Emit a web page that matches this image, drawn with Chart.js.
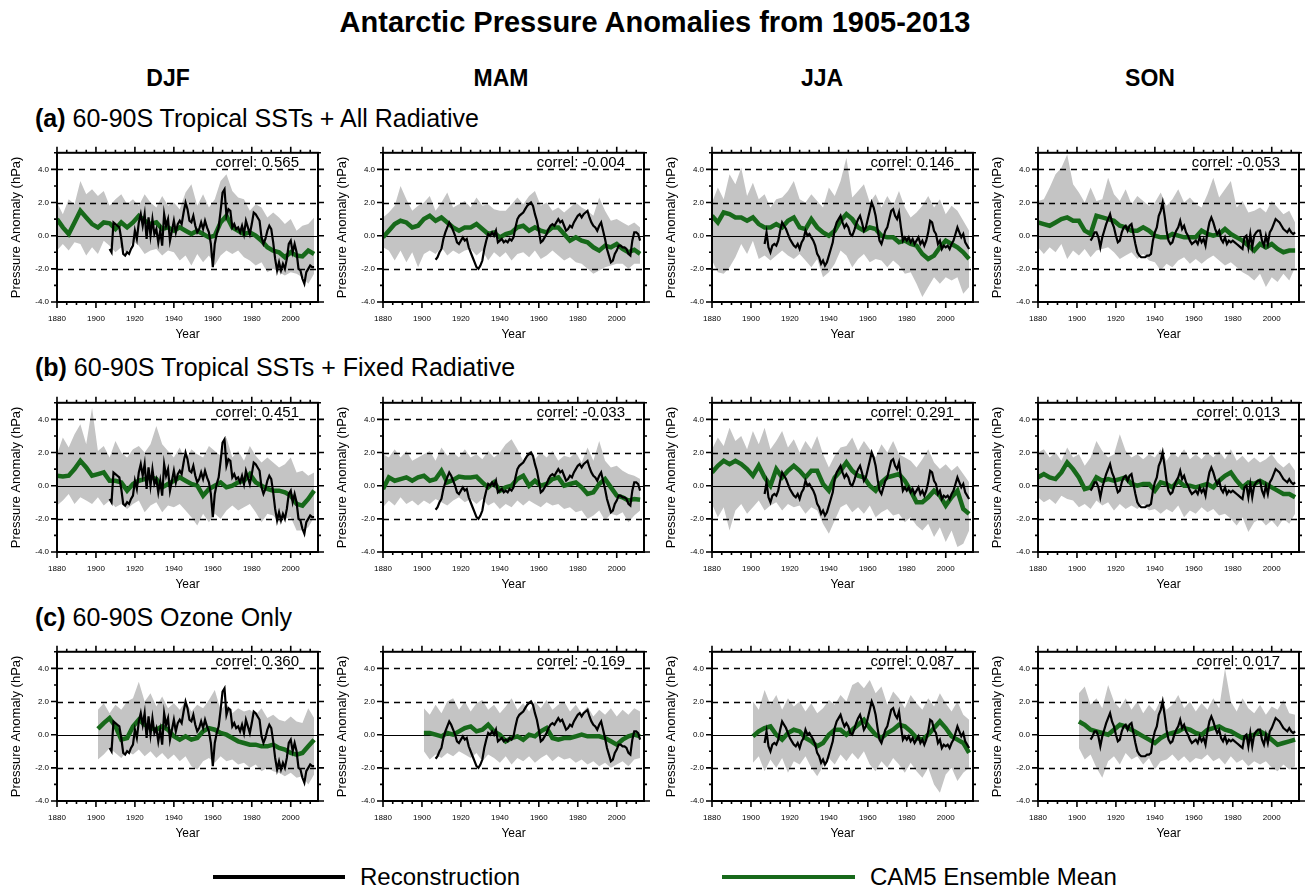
<!DOCTYPE html>
<html>
<head>
<meta charset="utf-8">
<script src="https://cdn.jsdelivr.net/npm/chart.js@4.4.1/dist/chart.umd.min.js"></script>
<style>
  body { margin: 0; background: #fff; }
  #page { position: relative; width: 1309px; height: 892px; overflow: hidden; background: #fff;
          font-family: "Liberation Sans", Arial, Helvetica, sans-serif; color: #000; }
  .txt { position: absolute; white-space: nowrap; line-height: 1; }
  .ctr { transform: translate(-50%, -50%); }
  .mid { transform: translateY(-50%); }
  canvas { position: absolute; }
  .lg { position: absolute; height: 4px; }
</style>
</head>
<body>
<div id="page">
  <div class="txt ctr" style="left:655px; top:22px; font-size:29px; font-weight:bold;">Antarctic Pressure Anomalies from 1905-2013</div>
  <div id="legend">
    <div class="lg" style="left:213px; top:875px; width:132px; background:#000;"></div>
    <div class="txt mid" style="left:360px; top:877px; font-size:24px;">Reconstruction</div>
    <div class="lg" style="left:722px; top:875px; width:133px; background:#17691a;"></div>
    <div class="txt mid" style="left:870px; top:877px; font-size:24px;">CAM5 Ensemble Mean</div>
  </div>
</div>
<script>
// ── DATA ─────────────────────────────────────────
const seasons = ['DJF', 'MAM', 'JJA', 'SON'];
const rowTags = ['(a)', '(b)', '(c)'];
const rowNames = ['60-90S Tropical SSTs + All Radiative', '60-90S Tropical SSTs + Fixed Radiative', '60-90S Ozone Only'];
const correlA = ['0.565', '-0.004', '0.146', '-0.053'];
const correlB = ['0.451', '-0.033', '0.291', '0.013'];
const correlC = ['0.360', '-0.169', '0.087', '0.017'];

const xTicks = [1880, 1900, 1920, 1940, 1960, 1980, 2000];
const yTicks = [-4, -2, 0, 2, 4];
const dashedLevels = [-2, 2, 4];

const yearsRecon = [1907,1908,1909,1910,1911,1912,1913,1914,1915,1916,
  1917,1918,1919,1920,1921,1922,1923,1924,1925,1926,
  1927,1928,1929,1930,1931,1932,1933,1934,1935,1936,
  1937,1938,1939,1940,1941,1942,1943,1944,1945,1946,
  1947,1948,1949,1950,1951,1952,1953,1954,1955,1956,
  1957,1958,1959,1960,1961,1962,1963,1964,1965,1966,
  1967,1968,1969,1970,1971,1972,1973,1974,1975,1976,
  1977,1978,1979,1980,1981,1982,1983,1984,1985,1986,
  1987,1988,1989,1990,1991,1992,1993,1994,1995,1996,
  1997,1998,1999,2000,2001,2002,2003,2004,2005,2006,
  2007,2008,2009,2010,2011,2012];
const yearsFull = [1880,1883,1886,1889,1892,1895,1898,1901,1904,1907,1910,1913,1916,1919,1922,
  1925,1928,1931,1934,1937,1940,1943,1946,1949,1952,1955,1958,1961,1964,1967,
  1970,1973,1976,1979,1982,1985,1988,1991,1994,1997,2000,2003,2006,2009,2012];
const yearsOzone = [1901,1904,1907,1910,1913,1916,1919,1922,1925,1928,1931,1934,1937,1940,1943,
  1946,1949,1952,1955,1958,1961,1964,1967,1970,1973,1976,1979,1982,1985,1988,
  1991,1994,1997,2000,2003,2006,2009,2012];

// reconstruction (same in every row)
const djfRecon = [-0.8,-1.0,0.8,0.7,0.6,0.5,-0.2,-1.1,-1.2,-1.0,
  -1.1,-0.8,-0.6,0.3,-0.2,0.8,1.3,0.6,1.3,-0.2,
  1.1,0.0,1.0,0.1,0.4,-0.4,0.3,-0.6,1.3,0.6,
  1.0,-0.3,0.3,0.9,0.2,0.7,0.9,0.7,1.4,2.0,
  1.6,0.9,0.8,1.2,0.6,0.2,0.4,0.8,0.4,0.9,
  0.5,0.2,-0.5,-1.9,-0.5,0.1,0.5,1.5,2.6,2.8,
  1.2,1.6,1.5,0.5,0.7,0.4,0.5,0.2,0.6,0.1,
  0.9,0.5,0.1,0.7,1.4,1.3,1.1,0.9,-0.1,-0.5,
  -0.2,0.3,0.6,0.4,-0.4,-1.4,-2.1,-1.6,-2.1,-1.7,
  -2.0,-1.4,-0.5,-0.3,-1.0,-0.5,-1.0,-2.0,-2.1,-2.6,
  -2.9,-2.2,-2.0,-1.8,-1.9,-1.9];
const mamRecon = [-1.45,-1.3,-1.0,-0.8,-0.2,0.2,0.5,0.8,0.6,0.3,
  0.0,-0.4,-0.5,-0.3,-0.1,-0.3,-0.2,-0.7,-1.0,-1.3,
  -1.6,-1.9,-2.0,-1.8,-1.5,-0.8,-0.3,0.1,0.0,0.2,
  0.0,0.3,-0.4,-0.3,-0.2,-0.4,-0.3,-0.4,-0.2,-0.3,
  -0.1,0.5,1.0,1.2,1.3,1.4,1.6,1.8,1.9,2.0,
  1.8,1.3,0.9,0.3,-0.4,-0.3,-0.1,0.1,0.4,0.6,
  0.7,0.6,0.8,1.0,0.8,0.9,0.6,0.3,0.4,0.6,
  0.5,0.8,1.0,1.2,1.3,1.1,1.3,1.4,1.5,1.1,
  0.8,0.6,0.5,0.3,0.6,0.8,0.3,-0.2,-0.8,-1.2,
  -1.6,-1.5,-1.1,-0.9,-0.6,-0.6,-0.7,-0.7,-0.8,-1.1,
  -1.2,-0.3,0.2,0.2,0.1,-0.3];
const jjaRecon = [-0.5,0.2,-0.7,-1.0,-0.6,-0.5,-0.6,-0.3,0.3,0.8,
  0.6,0.4,0.1,-0.2,-0.4,-0.6,-0.7,-0.5,-0.8,-0.4,
  -0.2,0.3,0.0,0.1,-0.1,-0.3,-0.6,-1.1,-1.3,-1.7,
  -1.5,-1.8,-1.6,-1.2,-0.8,-0.4,0.4,0.8,1.0,1.2,
  0.8,0.5,0.7,0.5,0.1,0.0,0.3,0.7,1.0,1.2,
  0.8,0.3,0.5,1.0,1.5,2.0,1.7,1.2,0.4,-0.3,
  -0.5,-0.1,0.3,0.5,1.0,1.5,1.6,1.2,1.0,1.4,
  0.5,-0.3,-0.1,-0.3,-0.1,-0.4,-0.2,-0.5,-0.3,-0.1,
  -0.5,-0.3,-0.6,-0.3,0.2,0.9,0.8,0.3,0.1,-0.5,
  -0.3,-0.8,-0.6,-0.7,-0.6,-0.8,-0.5,-0.3,0.1,0.5,
  0.2,-0.1,0.1,-0.4,-0.6,-0.8];
const sonRecon = [-0.3,-0.1,0.2,0.2,-0.1,-0.7,-0.1,0.3,0.7,1.0,
  1.3,0.8,0.5,0.0,-0.4,-0.3,0.2,0.5,0.6,0.3,
  0.6,0.7,0.1,-0.5,-1.0,-1.2,-1.3,-1.3,-1.3,-1.2,
  -1.2,-1.1,-0.3,0.2,0.5,1.2,1.5,2.0,1.2,0.3,
  -0.3,-0.5,-0.4,0.0,0.3,0.5,0.9,0.4,0.6,0.2,
  0.0,-0.3,-0.5,-0.4,-0.3,-0.5,-0.1,-0.4,-0.2,-0.6,
  0.2,0.8,1.1,0.8,0.4,0.1,0.3,-0.2,-0.4,-0.1,
  -0.5,-0.3,-0.4,-0.3,-0.4,-0.5,-0.6,-0.7,-0.8,-0.1,
  0.0,-0.7,0.1,-0.7,0.0,0.2,0.3,0.3,-0.3,-0.6,
  0.0,-0.5,0.2,0.4,0.7,1.0,0.9,0.8,0.6,0.4,
  0.3,0.2,0.4,0.2,0.1,0.2];

// (a) Tropical SSTs + All Radiative
const aDjfMean  = [1.0,0.5,0.1,0.8,1.5,1.1,0.7,0.5,0.8,0.75,0.4,0.8,0.5,0.8,1.2,0.9,0.7,0.8,0.4,0.5,0.3,0.5,0.3,0.1,0.3,0.1,-0.1,0.0,0.8,1.2,0.5,0.3,0.1,0.2,0.0,-0.3,-0.7,-0.9,-1.0,-1.3,-1.0,-1.2,-1.25,-0.9,-1.1];
const aDjfUpper = [2.0,1.3,2.2,1.9,3.3,2.5,2.8,2.4,2.7,1.8,2.2,2.5,1.9,2.2,1.8,2.5,2.0,1.7,2.4,1.8,2.0,1.6,2.6,3.1,1.8,2.5,1.7,2.2,3.3,3.7,2.7,2.3,2.2,1.5,1.9,1.7,1.1,1.4,1.1,0.7,1.0,0.3,0.6,0.7,1.1];
const aDjfLower = [-0.9,-0.5,-0.9,-0.4,-0.5,-1.2,-0.7,-1.1,-0.3,-0.6,-1.0,-0.7,-1.1,-0.3,-0.6,-1.1,-0.9,-0.8,-1.2,-0.9,-1.0,-1.5,-1.2,-1.8,-1.1,-1.6,-1.2,-1.8,-1.2,-0.9,-1.1,-0.9,-1.3,-1.5,-1.8,-1.6,-2.2,-2.0,-2.2,-2.4,-2.2,-2.3,-2.5,-2.9,-2.3];
const aMamMean  = [-0.1,0.3,0.7,0.9,0.8,0.5,0.6,1.0,1.2,0.9,1.1,0.8,0.5,0.3,0.5,0.5,0.7,0.4,0.1,0.2,-0.1,0.1,0.2,0.5,0.6,0.3,0.5,0.3,0.2,0.5,0.5,0.1,-0.3,-0.1,-0.3,-0.4,-0.7,-0.9,-0.6,-0.7,-0.5,-0.8,-1.0,-0.85,-1.1];
const aMamUpper = [1.1,1.4,1.8,3.0,2.2,1.5,1.8,2.0,2.4,1.5,2.0,2.6,1.7,1.9,2.1,1.7,2.3,1.8,1.9,1.6,1.5,1.5,1.9,2.3,1.9,2.4,2.7,1.8,2.0,1.5,1.7,1.4,1.7,2.0,1.7,1.5,1.2,2.3,1.5,0.9,1.0,0.8,0.6,0.8,0.5];
const aMamLower = [-0.7,-0.9,-1.5,-0.9,-1.6,-1.0,-1.9,-1.1,-0.9,-1.1,-0.7,-1.2,-0.9,-1.1,-0.9,-0.8,-1.2,-0.9,-1.5,-1.0,-1.3,-1.0,-1.5,-1.1,-1.0,-1.3,-0.9,-1.4,-1.2,-0.9,-1.2,-1.5,-1.3,-1.6,-1.7,-2.0,-2.3,-2.1,-1.9,-1.8,-1.7,-1.7,-2.0,-1.7,-1.7];
const aJjaMean  = [1.2,0.8,1.4,1.3,1.1,1.1,0.9,1.1,0.7,0.5,0.5,0.7,0.5,0.9,1.1,0.5,0.4,1.0,0.5,0.2,0.0,0.3,0.9,1.3,1.0,0.5,0.3,0.5,0.4,0.0,-0.1,-0.1,-0.4,-0.3,-0.5,-0.6,-1.1,-1.4,-1.2,-0.7,-0.3,-0.5,-0.7,-1.0,-1.4];
const aJjaUpper = [2.0,2.9,2.2,3.7,3.1,4.1,2.4,3.2,2.2,2.5,1.7,2.2,2.3,2.7,3.3,2.2,2.0,2.5,2.1,1.7,2.9,2.4,3.3,4.7,2.3,2.7,3.1,2.0,2.5,1.7,2.4,1.8,2.7,1.7,1.1,1.4,1.8,2.4,1.7,2.2,1.3,1.8,1.5,0.9,0.3];
const aJjaLower = [-1.5,-2.2,-2.3,-1.9,-1.3,-0.5,-1.1,-0.3,-1.4,-1.2,-1.5,-1.2,-0.9,-1.2,-1.4,-1.1,-1.5,-1.9,-1.4,-2.5,-2.2,-1.7,-0.9,-1.2,-1.9,-1.4,-1.1,-1.6,-1.4,-1.5,-1.9,-1.5,-1.8,-2.3,-2.2,-2.9,-3.7,-3.1,-2.5,-2.9,-2.5,-2.7,-2.5,-3.5,-3.1];
const aSonMean  = [0.8,0.7,0.6,0.8,1.0,1.1,0.9,0.9,0.3,0.1,1.2,1.1,1.0,0.9,0.6,0.5,0.3,0.3,0.5,0.3,0.0,-0.1,-0.1,0.1,0.0,-0.1,-0.1,-0.1,0.3,0.1,0.0,0.1,0.4,0.1,-0.1,-0.3,-0.6,-0.9,-0.5,-0.7,-0.5,-0.8,-1.0,-0.9,-0.9];
const aSonUpper = [2.1,2.2,2.9,3.7,4.1,4.9,3.1,2.6,2.0,2.9,2.1,2.2,3.5,2.5,2.1,2.8,1.9,2.4,2.1,1.8,2.0,2.6,1.8,2.2,2.8,2.0,2.3,1.9,1.7,2.5,3.5,2.3,2.8,3.3,1.7,2.1,1.4,1.5,1.7,1.4,2.1,1.7,1.3,1.5,0.8];
const aSonLower = [-0.7,-1.1,-0.7,-1.0,-0.5,-1.4,-0.9,-1.2,-0.8,-1.3,-0.9,-0.8,-0.7,-1.0,-1.4,-1.2,-1.0,-1.4,-1.1,-1.5,-1.6,-2.1,-1.7,-1.9,-1.5,-1.3,-1.7,-1.4,-1.7,-1.4,-1.2,-1.5,-1.8,-1.6,-1.9,-2.2,-2.4,-2.7,-2.3,-3.1,-2.5,-2.8,-2.3,-2.7,-1.9];

// (b) Tropical SSTs + Fixed Radiative
const bDjfMean  = [0.6,0.55,0.6,1.0,1.5,1.1,0.6,0.7,0.8,0.3,0.3,0.2,-0.3,0.1,0.3,0.4,0.5,0.4,-0.1,0.1,0.3,0.5,0.3,0.1,0.0,-0.6,-0.2,0.0,0.2,-0.1,0.0,0.2,0.3,0.7,0.2,0.0,-0.2,-0.3,-0.3,-0.4,-0.6,-1.1,-1.2,-0.8,-0.3];
const bDjfUpper = [1.9,2.9,2.3,3.1,3.7,2.5,4.7,2.1,2.4,1.7,2.7,2.0,1.7,2.2,2.4,2.0,2.5,3.6,2.5,2.1,1.7,2.3,1.5,2.2,1.9,1.7,2.4,2.1,1.8,2.9,1.7,2.1,1.5,2.4,1.8,1.4,1.7,1.4,1.1,1.3,1.7,0.8,0.9,0.6,0.8];
const bDjfLower = [-1.2,-0.9,-0.5,-1.1,-0.7,-0.9,-1.1,-0.7,-1.2,-0.9,-1.3,-1.1,-1.4,-1.1,-0.9,-1.6,-1.2,-1.0,-1.6,-1.2,-1.3,-1.1,-1.5,-1.9,-2.4,-1.7,-2.2,-1.7,-2.0,-1.5,-1.2,-1.5,-1.3,-1.1,-1.6,-2.2,-1.7,-1.8,-2.2,-2.0,-1.9,-2.7,-2.7,-2.5,-1.9];
const bMamMean  = [-0.2,0.5,0.3,0.4,0.5,0.3,0.5,0.6,0.3,0.4,0.9,0.2,0.35,0.55,0.5,0.5,0.55,0.2,-0.1,0.2,-0.3,-0.1,0.0,0.4,0.6,0.0,0.3,0.0,0.1,0.4,0.5,0.0,0.1,0.2,-0.1,-0.5,-0.4,0.1,0.4,-0.1,-0.6,-0.7,-0.9,-0.8,-0.85];
const bMamUpper = [1.9,1.7,2.2,1.7,2.1,1.5,1.7,1.9,2.1,1.5,2.3,1.8,2.0,1.7,2.2,1.7,1.9,1.6,2.1,1.7,2.0,2.5,2.8,2.2,1.5,2.1,1.6,2.0,1.7,2.1,1.5,1.8,1.7,2.0,1.4,2.3,1.5,2.7,1.5,1.1,1.2,0.9,0.7,0.6,0.4];
const bMamLower = [-1.3,-0.9,-1.2,-0.7,-1.1,-0.9,-1.2,-0.9,-1.1,-0.8,-1.0,-1.2,-0.9,-0.7,-1.0,-0.8,-1.1,-0.8,-1.2,-1.0,-1.4,-1.1,-1.3,-0.9,-1.2,-0.9,-1.1,-1.3,-1.0,-1.2,-1.1,-1.4,-1.3,-1.6,-1.5,-2.0,-1.8,-1.5,-2.1,-1.7,-1.8,-1.6,-2.2,-1.8,-1.5];
const bJjaMean  = [0.8,1.2,1.5,1.3,1.5,1.3,1.0,0.6,1.2,0.5,0.0,1.0,0.5,0.9,1.2,0.9,0.5,0.9,0.9,0.1,-0.3,0.5,0.9,1.4,0.9,0.6,0.5,0.0,-0.3,0.2,0.5,0.6,0.7,0.3,-0.3,-1.0,-1.0,-0.7,-0.3,-0.6,-1.2,-0.7,-0.3,-1.4,-1.7];
const bJjaUpper = [2.2,2.9,2.4,3.5,2.7,3.0,2.2,3.3,2.5,3.5,2.2,2.7,3.3,2.3,2.8,2.0,2.7,2.2,3.0,1.9,1.1,1.8,2.3,2.4,2.9,2.1,2.7,2.2,1.7,2.5,2.0,2.7,1.9,1.7,1.5,1.1,1.6,2.2,1.4,1.0,1.3,0.9,1.2,0.7,0.2];
const bJjaLower = [-1.1,-1.9,-1.3,-2.7,-1.5,-1.1,-1.7,-1.3,-0.9,-1.5,-1.2,-1.0,-1.5,-1.1,-1.3,-1.2,-1.7,-1.3,-1.5,-2.3,-2.9,-2.1,-1.3,-1.1,-1.6,-1.3,-1.7,-1.2,-1.9,-1.6,-1.4,-1.8,-1.7,-2.2,-1.9,-2.4,-2.7,-2.3,-3.1,-2.5,-3.4,-2.7,-3.7,-3.5,-2.7];
const bSonMean  = [0.5,0.7,0.5,0.4,0.8,1.4,1.0,0.5,-0.2,-0.1,0.5,0.3,0.4,0.3,0.4,0.5,0.1,0.0,0.1,0.1,-0.3,0.2,0.1,-0.1,0.3,0.0,0.0,-0.1,0.0,0.1,-0.1,0.3,0.6,0.8,0.3,-0.1,0.2,0.1,0.3,0.1,-0.1,-0.3,-0.5,-0.5,-0.7];
const bSonUpper = [2.0,2.2,1.7,2.0,1.5,2.3,1.7,1.9,1.2,1.7,2.7,2.1,1.7,1.9,3.1,2.1,1.7,1.9,1.6,1.9,1.7,2.2,1.5,2.0,1.7,2.2,1.6,1.9,1.6,2.0,1.7,2.1,1.6,2.2,1.5,1.8,1.4,1.7,1.4,1.6,1.9,1.4,1.1,1.4,0.9];
const bSonLower = [-0.7,-1.0,-0.8,-1.1,-0.6,-0.8,-0.9,-1.3,-1.1,-1.4,-0.9,-1.2,-1.0,-1.5,-1.1,-1.4,-1.2,-1.4,-1.1,-1.5,-1.4,-1.7,-1.4,-1.6,-1.2,-1.9,-1.5,-1.7,-1.3,-1.6,-1.4,-1.8,-1.7,-2.0,-2.4,-1.9,-2.8,-2.2,-2.0,-2.4,-2.1,-2.5,-2.0,-2.3,-1.7];

// (c) Ozone only (from 1901)
const cDjfMean  = [0.35,0.7,1.0,0.5,-0.3,-0.2,0.5,0.9,0.6,0.4,0.3,0.5,0.3,-0.1,-0.3,-0.1,-0.3,-0.2,0.2,0.4,0.3,0.1,0.0,-0.2,-0.4,-0.5,-0.6,-0.6,-0.7,-0.7,-0.6,-0.8,-0.9,-1.1,-1.2,-1.1,-0.7,-0.3];
const cDjfUpper = [1.5,1.9,1.3,1.8,1.5,2.0,2.2,3.2,2.0,2.5,1.7,2.3,1.6,1.9,1.5,2.0,1.4,1.8,1.6,2.1,2.7,1.5,1.9,1.3,1.6,1.4,1.5,1.2,1.6,1.0,1.2,0.9,0.8,1.1,0.8,0.7,1.6,1.0];
const cDjfLower = [-1.5,-1.2,-0.8,-1.1,-1.4,-1.0,-1.2,-0.9,-1.3,-1.0,-1.4,-1.1,-1.5,-1.2,-1.6,-1.3,-1.9,-2.1,-1.6,-1.4,-1.7,-1.3,-1.6,-1.5,-1.8,-1.7,-2.0,-1.8,-2.2,-2.0,-2.2,-2.3,-2.5,-2.3,-2.6,-2.5,-3.0,-2.4];
const cMamMean  = [0.1,0.1,0.0,-0.1,0.1,0.0,0.2,0.4,0.5,0.2,0.3,0.6,0.2,0.0,-0.4,-0.2,-0.1,-0.3,0.0,-0.1,0.2,0.4,-0.2,-0.3,-0.2,-0.2,-0.1,0.0,-0.1,-0.1,-0.1,-0.2,-0.4,-0.6,-0.3,-0.1,0.0,-0.1];
const cMamUpper = [1.6,1.2,1.8,1.3,2.0,2.2,1.5,2.0,1.4,1.9,2.1,1.5,1.8,1.3,1.7,2.2,1.5,1.9,1.4,2.0,1.6,2.1,1.5,1.8,2.0,1.4,1.8,1.3,1.7,1.1,1.5,1.2,1.6,1.1,1.5,1.2,1.6,1.4];
const cMamLower = [-1.0,-1.5,-1.2,-1.4,-1.1,-1.3,-1.0,-1.2,-1.4,-1.1,-1.6,-1.2,-1.4,-1.7,-1.3,-1.8,-1.4,-1.6,-1.3,-1.7,-1.4,-1.2,-1.6,-1.3,-1.5,-1.4,-1.7,-1.5,-1.8,-1.6,-1.9,-1.7,-2.0,-1.8,-1.6,-1.9,-1.5,-1.4];
const cJjaMean  = [-0.1,0.2,0.4,0.5,0.0,-0.3,0.1,0.3,0.2,-0.2,-0.4,-0.7,-0.5,0.0,0.3,0.3,0.0,0.3,0.6,0.9,0.4,0.0,-0.2,0.1,0.3,0.6,0.5,0.2,-0.2,-0.3,0.0,0.4,0.8,0.4,-0.1,-0.3,-0.5,-1.1];
const cJjaUpper = [2.0,1.5,2.7,1.8,2.4,1.5,2.2,1.7,2.0,1.4,1.9,1.3,1.6,2.1,1.8,2.4,2.0,3.0,3.2,2.8,3.3,2.5,2.9,1.8,2.6,2.2,1.6,2.4,1.9,1.5,2.2,1.7,2.5,1.9,1.4,2.0,1.2,0.9];
const cJjaLower = [-1.7,-1.3,-2.2,-1.5,-2.0,-1.4,-2.3,-1.6,-1.8,-1.3,-2.0,-2.5,-1.9,-1.4,-1.8,-1.2,-1.6,-1.1,-1.5,-1.0,-1.8,-2.2,-1.6,-2.0,-1.4,-1.8,-2.3,-1.7,-2.2,-2.6,-2.0,-3.0,-3.5,-2.4,-2.0,-2.8,-2.3,-2.0];
const cSonMean  = [0.8,0.6,0.3,0.2,0.1,0.0,0.3,0.6,0.5,0.3,0.1,-0.1,-0.3,-0.5,-0.2,0.0,0.1,0.2,0.4,0.3,0.1,0.0,0.3,0.4,0.5,0.3,0.2,0.0,-0.2,-0.1,0.0,0.2,0.0,-0.3,-0.6,-0.5,-0.4,-0.3];
const cSonUpper = [2.5,2.9,1.8,2.2,1.6,3.0,2.0,1.6,2.2,1.5,2.0,1.3,1.8,1.4,2.1,1.5,1.8,2.4,1.6,2.0,1.4,1.9,1.5,2.2,1.6,4.0,2.0,1.4,2.2,1.6,1.3,1.8,1.2,1.7,1.5,2.1,1.3,1.2];
const cSonLower = [-0.8,-1.5,-1.2,-2.0,-2.6,-1.6,-1.3,-1.8,-1.1,-1.5,-1.3,-1.8,-1.4,-2.1,-1.6,-1.5,-1.2,-1.6,-1.3,-1.7,-1.4,-1.5,-1.2,-1.6,-1.4,-1.8,-1.3,-1.7,-1.5,-1.9,-1.6,-1.8,-1.6,-2.0,-2.2,-1.8,-2.1,-1.9];

// ── LAYOUT ───────────────────────────────────────
const colLeft = [57, 383, 712, 1038];
const rowTop = [152, 402, 651];
const FRAME_W = 261, FRAME_H = 150;
const PAD_L = 55, PAD_T = 12, PAD_R = 10, PAD_B = 45;
const green = '#17691a';
const gray = '#c4c4c4';

const recon = [djfRecon, mamRecon, jjaRecon, sonRecon];
const rows = [
  { years: yearsFull, correl: correlA, mean: [aDjfMean, aMamMean, aJjaMean, aSonMean],
    upper: [aDjfUpper, aMamUpper, aJjaUpper, aSonUpper], lower: [aDjfLower, aMamLower, aJjaLower, aSonLower] },
  { years: yearsFull, correl: correlB, mean: [bDjfMean, bMamMean, bJjaMean, bSonMean],
    upper: [bDjfUpper, bMamUpper, bJjaUpper, bSonUpper], lower: [bDjfLower, bMamLower, bJjaLower, bSonLower] },
  { years: yearsOzone, correl: correlC, mean: [cDjfMean, cMamMean, cJjaMean, cSonMean],
    upper: [cDjfUpper, cMamUpper, cJjaUpper, cSonUpper], lower: [cDjfLower, cMamLower, cJjaLower, cSonLower] },
];

Chart.defaults.font.family = '"Liberation Sans", Arial, Helvetica, sans-serif';
Chart.defaults.color = '#000';

const page = document.getElementById('page');

function addText(html, css) {
  const d = document.createElement('div');
  d.className = 'txt';
  d.innerHTML = html;
  d.style.cssText = css;
  page.appendChild(d);
  return d;
}

function pts(xs, ys) {
  return ys.map((v, i) => ({ x: xs[i], y: v }));
}

// dashed reference lines under the mean line, frame + outward ticks on top
const framePlugin = {
  id: 'frame',
  beforeDatasetDraw(chart, args) {
    if (args.index !== 1) return;
    const { ctx, chartArea: a, scales: { y } } = chart;
    ctx.save();
    ctx.strokeStyle = '#000';
    ctx.lineWidth = 1.3;
    ctx.setLineDash([6, 5]);
    dashedLevels.forEach(v => {
      const py = Math.round(y.getPixelForValue(v)) + 0.5;
      ctx.beginPath(); ctx.moveTo(a.left, py); ctx.lineTo(a.right, py); ctx.stroke();
    });
    ctx.setLineDash([]);
    ctx.lineWidth = 1.2;
    const p0 = Math.round(y.getPixelForValue(0)) + 0.5;
    ctx.beginPath(); ctx.moveTo(a.left, p0); ctx.lineTo(a.right, p0); ctx.stroke();
    ctx.restore();
  },
  afterDraw(chart) {
    const { ctx, chartArea: a, scales: { x, y } } = chart;
    ctx.save();
    ctx.strokeStyle = '#000';
    ctx.lineWidth = 1.6;
    ctx.beginPath();
    for (let yr = 1880; yr <= 2010; yr += 5) {
      const px = x.getPixelForValue(yr), len = yr % 20 === 0 ? 6 : 3;
      ctx.moveTo(px, a.top); ctx.lineTo(px, a.top - len);
      ctx.moveTo(px, a.bottom); ctx.lineTo(px, a.bottom + len);
    }
    for (let v = -4; v <= 5; v++) {
      const py = y.getPixelForValue(v), len = v % 2 === 0 ? 6 : 3;
      ctx.moveTo(a.left, py); ctx.lineTo(a.left - len, py);
      ctx.moveTo(a.right, py); ctx.lineTo(a.right + len, py);
    }
    ctx.stroke();
    ctx.lineWidth = 2;
    ctx.strokeRect(a.left, a.top, a.right - a.left, a.bottom - a.top);
    ctx.restore();
  }
};

function makePanel(r, c) {
  const row = rows[r];
  const cv = document.createElement('canvas');
  cv.width = PAD_L + FRAME_W + PAD_R;
  cv.height = PAD_T + FRAME_H + PAD_B;
  cv.style.left = (colLeft[c] - PAD_L) + 'px';
  cv.style.top = (rowTop[r] - PAD_T) + 'px';
  page.appendChild(cv);

  new Chart(cv, {
    type: 'line',
    data: {
      datasets: [
        { data: pts(yearsRecon, recon[c]), borderColor: '#000', borderWidth: 2.2, pointRadius: 0, tension: 0, fill: false },
        { data: pts(row.years, row.mean[c]), borderColor: green, borderWidth: 4.5, pointRadius: 0, tension: 0, fill: false },
        { data: pts(row.years, row.upper[c]), borderColor: gray, borderWidth: 0, backgroundColor: gray, pointRadius: 0, tension: 0, fill: '+1' },
        { data: pts(row.years, row.lower[c]), borderColor: gray, borderWidth: 0, pointRadius: 0, tension: 0, fill: false },
      ]
    },
    options: {
      responsive: false,
      animation: false,
      devicePixelRatio: 1,
      events: [],
      layout: { padding: { top: PAD_T, right: PAD_R, left: 0, bottom: 0 } },
      plugins: { legend: { display: false }, tooltip: { enabled: false } },
      scales: {
        x: {
          type: 'linear', min: 1880, max: 2014,
          afterBuildTicks: s => { s.ticks = xTicks.map(v => ({ value: v })); },
          afterFit: s => { s.height = PAD_B; },
          grid: { display: false, drawTicks: false },
          border: { display: false },
          ticks: { font: { size: 8 }, padding: 12, maxRotation: 0, autoSkip: false, callback: v => String(v) },
          title: { display: true, text: 'Year', font: { size: 12 }, padding: { top: 0, bottom: 5 } }
        },
        y: {
          min: -4, max: 5,
          afterBuildTicks: s => { s.ticks = yTicks.map(v => ({ value: v })); },
          afterFit: s => { s.width = PAD_L; },
          grid: { display: false, drawTicks: false },
          border: { display: false },
          ticks: { font: { size: 8 }, padding: 8, autoSkip: false, callback: v => v.toFixed(1) },
          title: { display: true, text: 'Pressure Anomaly (hPa)', font: { size: 13 }, padding: { top: 7, bottom: 0 } }
        }
      }
    },
    plugins: [framePlugin]
  });

  addText('correl: ' + row.correl[c],
    `right:${1309 - (colLeft[c] + FRAME_W - 19)}px; top:${rowTop[r] + 9}px; font-size:15px; transform:translateY(-50%);`);
}

// column headers and row labels
const headerX = [168, 501, 822, 1150];
seasons.forEach((s, i) => addText(s, `left:${headerX[i]}px; top:78px; font-size:23px; font-weight:bold; transform:translate(-50%,-50%);`));
const rowLabelY = [118, 367, 617];
rowTags.forEach((t, i) => addText(`<b>${t}</b> ${rowNames[i]}`, `left:35px; top:${rowLabelY[i]}px; font-size:25px; transform:translateY(-50%);`));

for (let r = 0; r < 3; r++) {
  for (let c = 0; c < 4; c++) makePanel(r, c);
}
</script>
</body>
</html>
